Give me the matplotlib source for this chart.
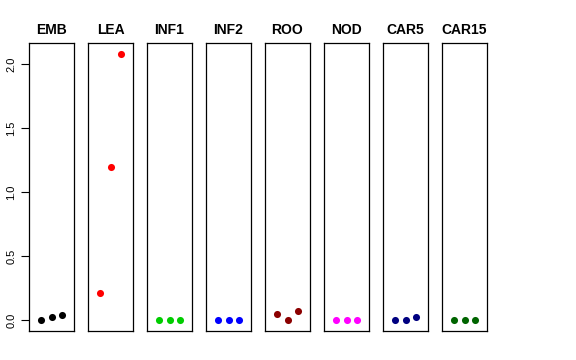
import matplotlib
matplotlib.use('Agg')
import matplotlib.pyplot as plt

plt.rcParams['font.family'] = ['Liberation Sans', 'DejaVu Sans']

tissues = ['EMB', 'LEA', 'INF1', 'INF2', 'ROO', 'NOD', 'CAR5', 'CAR15']
colors = ['black', 'red', '#00cd00', 'blue', '#8b0000', 'magenta', '#000080', '#006400']
reps = [1, 2, 3]
values = [
    [0.0, 0.025, 0.04],
    [0.216, 1.198, 2.08],
    [0.0, 0.0, 0.0],
    [0.0, 0.0, 0.0],
    [0.052, 0.0, 0.076],
    [0.0, 0.0, 0.0],
    [0.0, 0.0, 0.023],
    [0.0, 0.0, 0.0],
]
yticks = [0.0, 0.5, 1.0, 1.5, 2.0]

fig = plt.figure(figsize=(5.76, 3.6), dpi=100)
W, H = 576, 360
ymin, ymax = -0.083, 2.163

for i, (name, col, vals) in enumerate(zip(tissues, colors, values)):
    x0 = 29 + i * 59
    ax = fig.add_axes([x0 / W, 1 - 331 / H, 45 / W, (331 - 43.3) / H])
    ax.scatter(reps, vals, s=26, color=col, zorder=3, linewidths=0)
    ax.set_xlim(-0.16, 4.16)
    ax.set_ylim(ymin, ymax)
    ax.set_xticks([])
    ax.set_title(name, fontsize=10, fontweight='bold', pad=7)
    for sp in ax.spines.values():
        sp.set_linewidth(0.9)
        sp.set_color('black')
    if i == 0:
        ax.set_yticks(yticks)
        ax.set_yticklabels(['%.1f' % v for v in yticks], rotation=90, va='center', fontsize=8)
        ax.tick_params(axis='y', length=6, width=0.8, pad=3)
    else:
        ax.set_yticks([])

fig.savefig('out.png', dpi=100)
